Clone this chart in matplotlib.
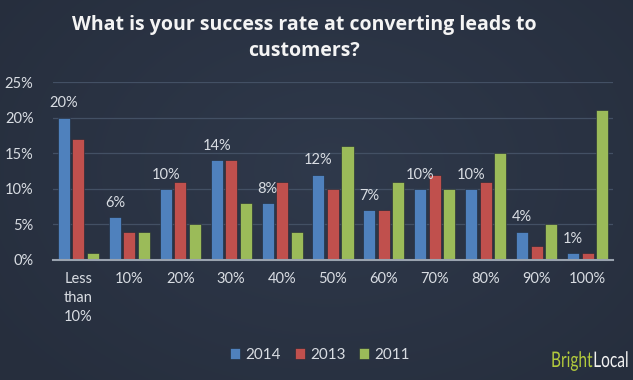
import numpy as np
import matplotlib
matplotlib.use('Agg')
import matplotlib.pyplot as plt
from matplotlib.textpath import TextPath
from matplotlib.patches import PathPatch
from matplotlib.font_manager import FontProperties
from matplotlib.transforms import Affine2D

# data
categories = ['Less\nthan\n10%', '10%', '20%', '30%', '40%', '50%',
              '60%', '70%', '80%', '90%', '100%']
vals_2014 = [20, 6, 10, 14, 8, 12, 7, 10, 10, 4, 1]
vals_2013 = [17, 4, 11, 14, 11, 10, 7, 12, 11, 2, 1]
vals_2011 = [1, 4, 5, 8, 4, 16, 11, 10, 15, 5, 21]
y_ticks = [0, 5, 10, 15, 20, 25]

bg = '#2c3546'
txt = '#d9dde3'
colors = {'2014': '#4f81bd', '2013': '#c0504d', '2011': '#9bbb59'}

plt.rcParams['font.family'] = ['Lato', 'DejaVu Sans']

fig = plt.figure(figsize=(6.33, 3.8), dpi=100)
fig.patch.set_facecolor(bg)

# soft radial glow in the background
bgax = fig.add_axes([0, 0, 1, 1], zorder=-10)
yy, xx = np.mgrid[0:380, 0:633]
r = np.sqrt(((xx - 330) / 420.0) ** 2 + ((yy - 170) / 300.0) ** 2)
base = np.array([0x2f, 0x39, 0x4b]) / 255.0
edge = np.array([0x26, 0x2e, 0x3d]) / 255.0
t = np.clip(r, 0, 1)[..., None]
bgax.imshow(base * (1 - t) + edge * t, aspect='auto', interpolation='bilinear')
bgax.axis('off')

ax = fig.add_axes([0.0837, 0.3158, 0.8847, 0.4684])
ax.set_facecolor('none')

x = np.arange(len(categories))
step = 0.285
width = 0.236
series = [('2014', vals_2014), ('2013', vals_2013), ('2011', vals_2011)]
for i, (name, vals) in enumerate(series):
    ax.bar(x + (i - 1) * step, vals, width, color=colors[name],
           edgecolor='#1f2733', linewidth=0.4, label=name, zorder=3)

# value labels on the 2014 series only
for xi, v in zip(x, vals_2014):
    ax.text(xi - step, v + 1.0, f'{v}%', ha='center', va='bottom',
            color=txt, fontsize=10.5)

ax.set_xlim(-0.5, len(categories) - 0.5)
ax.set_ylim(0, 25)
ax.set_yticks(y_ticks)
ax.set_yticklabels([f'{v}%' for v in y_ticks])
ax.set_xticks(x)
ax.set_xticklabels(categories, linespacing=1.45)
ax.tick_params(axis='both', length=0, colors=txt, labelsize=10.5)
ax.tick_params(axis='y', pad=14)
ax.tick_params(axis='x', pad=9)
ax.grid(axis='y', color='#435064', linewidth=0.9, zorder=0)
for s in ['top', 'right', 'left']:
    ax.spines[s].set_visible(False)
ax.spines['bottom'].set_color('#9aa3af')
ax.spines['bottom'].set_linewidth(1.5)
ax.spines['bottom'].set_zorder(4)

fig.text(0.481, 0.899, 'What is your success rate at converting leads to\ncustomers?',
         ha='center', va='center', color='#f4f4f4', fontsize=14,
         fontweight='bold', linespacing=1.4, family=['Open Sans', 'DejaVu Sans'])

leg = fig.legend(loc='center', bbox_to_anchor=(0.506, 0.066), ncol=3,
                 frameon=False, fontsize=11, handlelength=0.65,
                 handleheight=0.65, handletextpad=0.35, columnspacing=0.9)
for t_ in leg.get_texts():
    t_.set_color(txt)

# BrightLocal logo, drawn as a horizontally squeezed text path (pixel coords)
logo_fp = FontProperties(family='Lato', size=21.5)
px0, py0 = 551, 380 - 367
squeeze = 0.72
p1 = TextPath((0, 0), 'Bright', prop=logo_fp)
w1 = p1.get_extents().x1
p2 = TextPath((w1 + 1, 0), 'Local', prop=logo_fp)
tr = Affine2D().scale(squeeze, 1.0).translate(px0, py0)
for p, c in [(p1, '#b3cb3c'), (p2, '#f2f2f2')]:
    fig.add_artist(PathPatch(tr.transform_path(p), facecolor=c, edgecolor='none',
                             transform=None))

fig.savefig('out.png', dpi=100, facecolor=bg)
